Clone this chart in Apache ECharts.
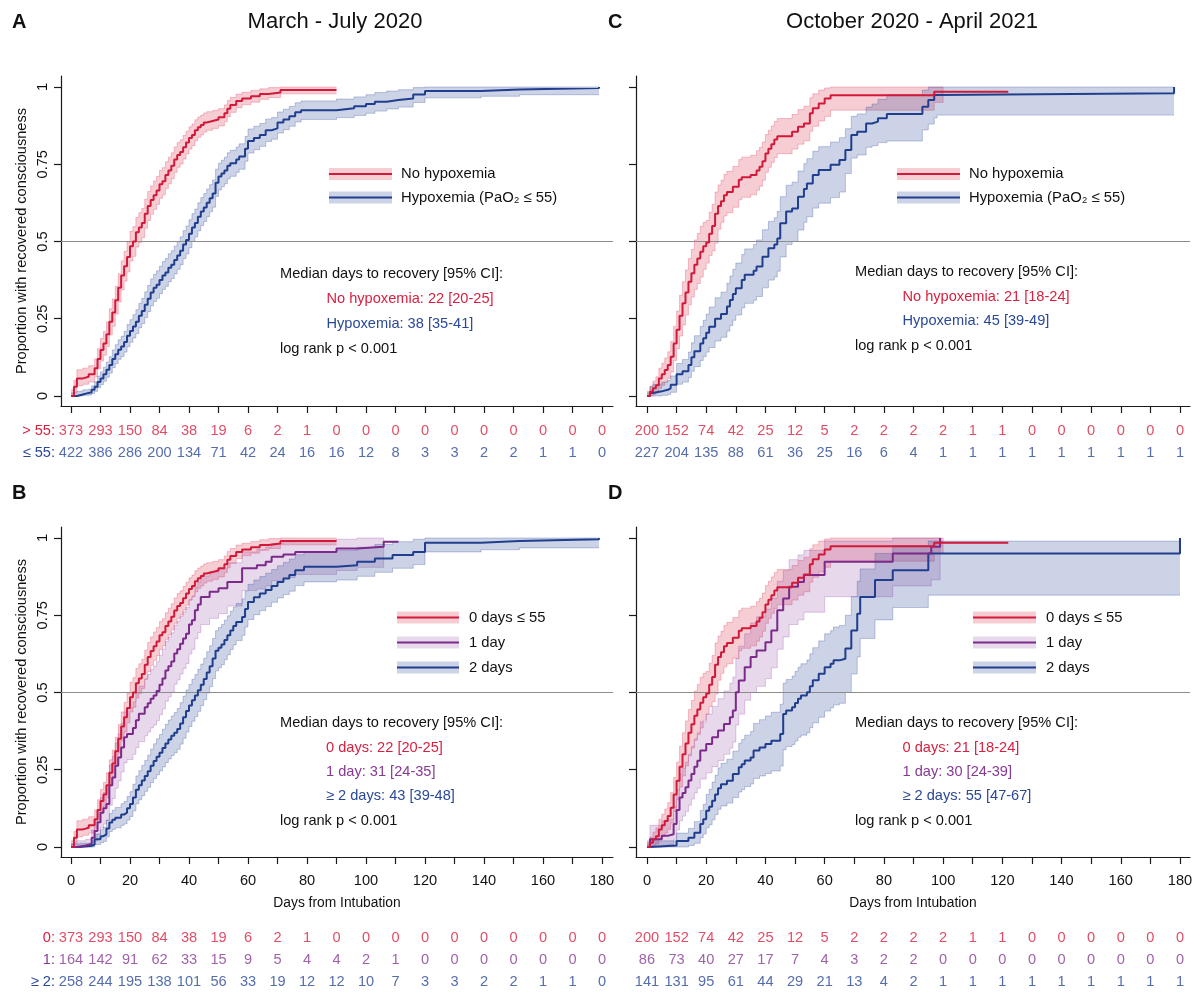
<!DOCTYPE html>
<html><head><meta charset="utf-8">
<script src="https://cdn.jsdelivr.net/npm/echarts@6/dist/echarts.min.js"></script>
<style>html,body{margin:0;padding:0;background:#fff}#c{width:1200px;height:993px}</style>
</head><body><div id="c"></div>
<script>
// ---------- tick labels ----------
const ticks10 = [0,10,20,30,40,50,60,70,80,90,100,110,120,130,140,150,160,170,180];
const ticks20 = [0,20,40,60,80,100,120,140,160,180];
const yTicks = [0,0.25,0.5,0.75,1];
const riskDays = [0,10,20,30,40,50,60,70,80,90,100,110,120,130,140,150,160,170,180];

// ---------- March - July 2020 : no hypoxemia / 0 days ----------
const mjNoDay = [0,1,2,4,6,8,9,10,11,12,13,14,15,16,17,18,19,20,21,22,23,24,25,26,27,28,29,30,31,32,33,34,35,36,37,38,39,40,41,42,43,44,45,46,48,50,52,53,54,56,58,61,64,67,71,90];
const mjNoP = [0,0.03,0.057,0.062,0.07,0.09,0.12,0.149,0.17,0.2,0.24,0.27,0.31,0.35,0.39,0.42,0.45,0.485,0.5,0.53,0.545,0.56,0.59,0.615,0.634,0.65,0.665,0.685,0.695,0.715,0.73,0.745,0.765,0.78,0.79,0.805,0.82,0.835,0.845,0.86,0.87,0.877,0.885,0.89,0.895,0.902,0.915,0.93,0.942,0.955,0.963,0.97,0.977,0.982,0.99,0.99];
const mjNoLo = [0,0.012,0.033,0.038,0.045,0.062,0.088,0.113,0.132,0.16,0.198,0.226,0.265,0.304,0.343,0.372,0.402,0.437,0.452,0.482,0.497,0.513,0.543,0.568,0.588,0.604,0.62,0.64,0.651,0.672,0.687,0.703,0.724,0.74,0.751,0.767,0.783,0.799,0.81,0.826,0.837,0.845,0.854,0.86,0.866,0.874,0.888,0.904,0.918,0.933,0.943,0.951,0.96,0.966,0.978,0.978];
const mjNoHi = [0.02,0.05,0.085,0.09,0.098,0.12,0.153,0.186,0.209,0.24,0.282,0.314,0.355,0.396,0.437,0.468,0.498,0.533,0.548,0.578,0.593,0.607,0.637,0.662,0.68,0.696,0.71,0.73,0.739,0.758,0.773,0.787,0.806,0.82,0.829,0.843,0.857,0.871,0.88,0.894,0.903,0.909,0.916,0.92,0.924,0.93,0.942,0.956,0.966,0.977,0.983,0.989,0.994,0.998,1,1];

// ---------- March - July 2020 : hypoxemia ----------
const mjHypDay = [0,2,4,6,7,8,9,10,11,12,13,14,15,16,17,18,19,20,21,22,23,24,25,26,27,28,29,30,31,32,33,34,35,36,37,38,39,40,41,42,43,44,45,46,47,48,49,50,51,52,53,54,56,57,59,60,62,64,66,68,70,72,74,76,78,90,96,100,103,107,111,116,120,139,152,179];
const mjHypP = [0,0.005,0.01,0.012,0.02,0.03,0.045,0.057,0.07,0.085,0.1,0.12,0.135,0.15,0.16,0.175,0.195,0.21,0.225,0.24,0.26,0.275,0.295,0.315,0.335,0.35,0.36,0.375,0.39,0.4,0.415,0.425,0.44,0.455,0.47,0.49,0.505,0.525,0.545,0.56,0.58,0.597,0.61,0.625,0.64,0.655,0.69,0.71,0.72,0.73,0.745,0.753,0.765,0.775,0.8,0.825,0.835,0.845,0.86,0.866,0.885,0.895,0.905,0.918,0.925,0.931,0.938,0.945,0.952,0.958,0.963,0.976,0.987,0.992,0.997,1];
const mjHypLo = [0,0,0.002,0.003,0.008,0.015,0.027,0.037,0.048,0.061,0.074,0.092,0.105,0.119,0.128,0.142,0.16,0.174,0.188,0.202,0.221,0.235,0.254,0.273,0.292,0.306,0.316,0.331,0.345,0.355,0.37,0.38,0.395,0.41,0.425,0.445,0.46,0.48,0.5,0.515,0.535,0.552,0.565,0.58,0.596,0.611,0.646,0.667,0.677,0.687,0.703,0.711,0.724,0.734,0.76,0.786,0.797,0.808,0.824,0.831,0.851,0.862,0.873,0.887,0.895,0.901,0.908,0.915,0.922,0.929,0.935,0.95,0.965,0.97,0.975,0.975];
const mjHypHi = [0.01,0.015,0.02,0.022,0.033,0.046,0.064,0.078,0.093,0.11,0.127,0.149,0.166,0.182,0.193,0.209,0.231,0.247,0.263,0.279,0.3,0.316,0.337,0.358,0.379,0.394,0.405,0.42,0.435,0.445,0.46,0.47,0.485,0.5,0.515,0.535,0.55,0.57,0.59,0.605,0.625,0.642,0.655,0.67,0.684,0.699,0.734,0.753,0.763,0.773,0.787,0.795,0.806,0.816,0.84,0.864,0.873,0.882,0.896,0.901,0.919,0.928,0.937,0.949,0.955,0.961,0.968,0.975,0.982,0.987,0.991,0.998,1,1,1,1];

// ---------- March - July 2020 : 1 day ----------
const mj1Day = [0,2,5,7,8,9,10,11,12,13,14,15,16,17,18,19,21,22,23,25,26,27,28,29,30,31,32,33,34,35,36,37,38,39,40,41,42,43,44,47,50,53,58,63,66,68,72,76,90,97,106,111];
const mj1P = [0,0.005,0.01,0.03,0.052,0.08,0.111,0.125,0.139,0.2,0.225,0.263,0.29,0.322,0.355,0.366,0.385,0.41,0.431,0.452,0.465,0.48,0.49,0.505,0.525,0.545,0.571,0.585,0.6,0.626,0.64,0.658,0.675,0.69,0.72,0.734,0.766,0.785,0.809,0.826,0.837,0.858,0.902,0.912,0.923,0.939,0.947,0.955,0.966,0.972,0.988,0.988];
const mj1Lo = [0,0,0,0.008,0.02,0.04,0.062,0.074,0.086,0.135,0.157,0.19,0.214,0.243,0.273,0.283,0.3,0.322,0.341,0.36,0.372,0.386,0.395,0.409,0.428,0.447,0.472,0.486,0.501,0.527,0.541,0.56,0.578,0.594,0.625,0.64,0.674,0.694,0.72,0.74,0.755,0.78,0.83,0.835,0.845,0.862,0.872,0.882,0.895,0.905,0.988,0.988];
const mj1Hi = [0.01,0.02,0.025,0.055,0.085,0.122,0.16,0.176,0.192,0.265,0.293,0.336,0.366,0.401,0.437,0.449,0.47,0.498,0.521,0.544,0.558,0.574,0.585,0.6,0.62,0.64,0.665,0.679,0.693,0.717,0.73,0.746,0.761,0.775,0.8,0.812,0.84,0.857,0.877,0.891,0.9,0.92,0.955,0.963,0.971,0.982,0.988,0.992,0.996,1,0.988,0.988];

// ---------- March - July 2020 : >= 2 days ----------
const mj2Day = [0,3,7,8,10,11,12,13,14,15,17,18,19,20,21,22,23,24,25,26,27,28,29,30,31,32,33,34,35,36,37,38,39,40,41,42,43,44,45,46,47,48,49,50,51,52,53,54,55,56,58,59,60,62,64,66,68,70,72,74,76,79,90,97,103,109,116,120,139,152,179];
const mj2P = [0,0.004,0.008,0.025,0.035,0.041,0.06,0.079,0.088,0.095,0.105,0.111,0.125,0.139,0.16,0.185,0.2,0.215,0.23,0.245,0.263,0.278,0.292,0.305,0.32,0.335,0.348,0.36,0.37,0.382,0.4,0.42,0.44,0.458,0.475,0.49,0.507,0.525,0.544,0.565,0.585,0.61,0.635,0.645,0.655,0.67,0.685,0.701,0.715,0.728,0.744,0.77,0.793,0.808,0.82,0.832,0.845,0.858,0.869,0.88,0.896,0.907,0.912,0.923,0.934,0.945,0.955,0.985,0.99,0.996,1];
const mj2Lo = [0,0,0,0.008,0.014,0.018,0.033,0.05,0.057,0.062,0.07,0.075,0.087,0.099,0.117,0.14,0.153,0.166,0.18,0.193,0.209,0.222,0.234,0.246,0.259,0.273,0.285,0.296,0.305,0.316,0.333,0.352,0.372,0.39,0.407,0.422,0.439,0.458,0.477,0.498,0.519,0.545,0.57,0.58,0.59,0.606,0.622,0.639,0.654,0.668,0.685,0.712,0.736,0.752,0.765,0.778,0.792,0.806,0.817,0.828,0.846,0.858,0.864,0.876,0.889,0.902,0.914,0.955,0.962,0.968,0.968];
const mj2Hi = [0.01,0.012,0.02,0.042,0.056,0.064,0.087,0.108,0.119,0.128,0.14,0.147,0.163,0.179,0.203,0.23,0.247,0.264,0.28,0.297,0.317,0.334,0.35,0.364,0.381,0.397,0.411,0.424,0.435,0.448,0.467,0.488,0.508,0.526,0.543,0.558,0.575,0.592,0.611,0.632,0.651,0.675,0.7,0.71,0.72,0.734,0.748,0.763,0.776,0.788,0.803,0.828,0.85,0.864,0.875,0.886,0.898,0.91,0.921,0.932,0.946,0.956,0.96,0.97,0.979,0.988,0.996,1,1,1,1];

// ---------- October 2020 - April 2021 : no hypoxemia / 0 days ----------
const oaNoDay = [0,1,2,3,4,5,6,7,8,9,10,11,12,13,14,15,16,17,18,19,20,21,22,23,24,25,26,27,29,31,32,35,37,38,39,40,41,42,43,44,49,51,53,55,56,58,60,62,97,100,122];
const oaNoP = [0,0.014,0.025,0.035,0.057,0.07,0.084,0.1,0.127,0.17,0.214,0.26,0.3,0.335,0.37,0.397,0.425,0.445,0.467,0.485,0.497,0.525,0.55,0.59,0.615,0.63,0.65,0.66,0.677,0.7,0.708,0.715,0.73,0.742,0.76,0.785,0.8,0.815,0.83,0.841,0.855,0.871,0.882,0.915,0.931,0.947,0.963,0.973,0.985,0.985,0.985];
const oaNoLo = [0,0,0.005,0.01,0.025,0.035,0.045,0.057,0.078,0.115,0.153,0.194,0.23,0.262,0.295,0.32,0.345,0.364,0.385,0.41,0.43,0.455,0.47,0.495,0.54,0.562,0.583,0.593,0.611,0.635,0.643,0.651,0.666,0.679,0.698,0.724,0.74,0.756,0.772,0.784,0.799,0.815,0.826,0.857,0.873,0.89,0.905,0.925,0.95,0.985,0.985];
const oaNoHi = [0.015,0.032,0.048,0.062,0.09,0.106,0.123,0.143,0.176,0.225,0.275,0.326,0.37,0.408,0.445,0.474,0.505,0.526,0.549,0.562,0.568,0.595,0.62,0.66,0.683,0.698,0.717,0.727,0.743,0.765,0.773,0.779,0.794,0.805,0.822,0.846,0.86,0.874,0.888,0.898,0.911,0.927,0.938,0.965,0.978,0.99,0.997,1,1,0.985,0.985];

// ---------- October 2020 - April 2021 : hypoxemia ----------
const oaHypDay = [0,1,2,5,7,8,10,12,14,15,16,18,19,20,21,23,25,27,28,29,30,32,33,36,37,39,41,43,44,45,47,49,51,53,54,56,58,62,65,67,69,71,74,76,78,81,93,95,97,98,178];
const oaHypP = [0,0.01,0.015,0.02,0.025,0.036,0.07,0.08,0.1,0.125,0.145,0.17,0.187,0.205,0.224,0.25,0.265,0.29,0.311,0.33,0.349,0.375,0.392,0.405,0.419,0.451,0.478,0.49,0.51,0.559,0.597,0.607,0.645,0.67,0.688,0.715,0.731,0.748,0.764,0.796,0.845,0.855,0.882,0.888,0.899,0.913,0.936,0.958,0.974,0.98,1];
const oaHypLo = [0,0,0,0.002,0.005,0.012,0.038,0.045,0.06,0.08,0.095,0.115,0.128,0.142,0.157,0.178,0.19,0.21,0.228,0.245,0.262,0.285,0.3,0.31,0.322,0.35,0.375,0.385,0.404,0.45,0.49,0.5,0.537,0.562,0.58,0.608,0.624,0.642,0.66,0.72,0.77,0.78,0.805,0.81,0.82,0.825,0.861,0.88,0.9,0.909,0.909];
const oaHypHi = [0.01,0.03,0.038,0.045,0.05,0.065,0.105,0.118,0.142,0.172,0.195,0.225,0.245,0.265,0.288,0.318,0.336,0.365,0.388,0.41,0.43,0.458,0.476,0.49,0.505,0.538,0.565,0.577,0.597,0.645,0.682,0.692,0.728,0.752,0.768,0.792,0.807,0.822,0.836,0.865,0.905,0.913,0.935,0.945,0.96,0.975,0.99,1,1,1,1];

// ---------- October 2020 - April 2021 : 1 day ----------
const oa1Day = [0,1,5,7,9,10,11,12,13,14,15,16,17,18,20,22,24,26,28,29,30,31,33,35,37,40,42,44,46,48,51,53,60,83,96,99];
const oa1P = [0,0.025,0.036,0.041,0.074,0.12,0.16,0.175,0.193,0.215,0.236,0.26,0.279,0.312,0.333,0.355,0.377,0.398,0.42,0.442,0.501,0.539,0.582,0.615,0.636,0.663,0.701,0.766,0.804,0.842,0.858,0.88,0.923,0.95,0.972,1];
const oa1Lo = [0,0,0.005,0.008,0.025,0.055,0.085,0.1,0.115,0.135,0.155,0.175,0.19,0.22,0.24,0.26,0.28,0.3,0.32,0.34,0.395,0.43,0.475,0.5,0.52,0.545,0.58,0.64,0.68,0.72,0.735,0.76,0.81,0.845,0.865,1];
const oa1Hi = [0.02,0.07,0.085,0.09,0.13,0.185,0.235,0.255,0.275,0.3,0.325,0.35,0.37,0.405,0.43,0.455,0.48,0.505,0.53,0.55,0.61,0.65,0.69,0.725,0.745,0.77,0.805,0.86,0.895,0.93,0.945,0.96,0.99,1,1,1];

// ---------- October 2020 - April 2021 : >= 2 days ----------
const oa2Day = [0,1,10,14,16,18,19,20,21,22,23,24,25,27,29,31,32,33,35,36,38,40,42,45,46,47,49,50,51,52,54,55,56,58,60,62,63,65,67,69,71,72,77,83,95,180];
const oa2P = [0,0.005,0.019,0.03,0.046,0.074,0.09,0.117,0.13,0.15,0.17,0.19,0.203,0.214,0.236,0.258,0.268,0.28,0.29,0.312,0.322,0.333,0.344,0.366,0.43,0.442,0.452,0.466,0.48,0.49,0.501,0.52,0.54,0.561,0.582,0.593,0.604,0.609,0.642,0.701,0.755,0.809,0.864,0.896,0.95,1];
const oa2Lo = [0,0,0,0.005,0.012,0.03,0.042,0.062,0.072,0.088,0.105,0.122,0.133,0.142,0.16,0.178,0.186,0.196,0.204,0.222,0.23,0.238,0.246,0.262,0.315,0.325,0.332,0.343,0.355,0.362,0.37,0.386,0.402,0.42,0.44,0.45,0.46,0.465,0.5,0.56,0.615,0.675,0.735,0.775,0.815,0.815];
const oa2Hi = [0.01,0.02,0.045,0.06,0.082,0.118,0.138,0.17,0.187,0.21,0.232,0.256,0.271,0.284,0.31,0.336,0.348,0.362,0.374,0.4,0.412,0.424,0.436,0.462,0.53,0.542,0.553,0.568,0.582,0.593,0.605,0.625,0.645,0.667,0.69,0.7,0.712,0.717,0.75,0.81,0.86,0.9,0.95,0.975,0.99,0.99];

// ---------- numbers at risk ----------
const riskMjNo  = [373,293,150,84,38,19,6,2,1,0,0,0,0,0,0,0,0,0,0];
const riskMjHyp = [422,386,286,200,134,71,42,24,16,16,12,8,3,3,2,2,1,1,0];
const riskMj1   = [164,142,91,62,33,15,9,5,4,4,2,1,0,0,0,0,0,0,0];
const riskMj2   = [258,244,195,138,101,56,33,19,12,12,10,7,3,3,2,2,1,1,0];
const riskOaNo  = [200,152,74,42,25,12,5,2,2,2,2,1,1,0,0,0,0,0,0];
const riskOaHyp = [227,204,135,88,61,36,25,16,6,4,1,1,1,1,1,1,1,1,1];
const riskOa1   = [86,73,40,27,17,7,4,3,2,2,0,0,0,0,0,0,0,0,0];
const riskOa2   = [141,131,95,61,44,29,21,13,4,2,1,1,1,1,1,1,1,1,1];

// ---------- median annotations ----------
const medA = ['No hypoxemia: 22 [20-25]', 'Hypoxemia: 38 [35-41]'];
const medC = ['No hypoxemia: 21 [18-24]', 'Hypoxemia: 45 [39-49]'];
const medB = ['0 days: 22 [20-25]', '1 day: 31 [24-35]', '\u2265 2 days: 43 [39-48]'];
const medD = ['0 days: 21 [18-24]', '1 day: 30 [24-39]', '\u2265 2 days: 55 [47-67]'];

// ---------- styling ----------
const FONT = '"Liberation Sans", Arial, Helvetica, sans-serif';
const AX = '#1a1a1a';
const FS = 14.6;
const COL = {
  red:    {line:'#D2193A', txt:'#D91E3E', band:'rgba(222,45,75,0.24)',  edge:'rgba(222,45,75,0.40)'},
  blue:   {line:'#203E8E', txt:'#2A4899', band:'rgba(40,70,150,0.24)',  edge:'rgba(40,70,150,0.40)'},
  purple: {line:'#7B2A8A', txt:'#873A93', band:'rgba(140,60,160,0.20)', edge:'rgba(140,60,160,0.38)'}
};

const LEFT  = {x0:61,  w:552, xmin:-3.39, xmax:183.73};
const RIGHT = {x0:636, w:554, xmin:-3.71, xmax:183.38};

const panels = [
  {col:LEFT, top:76, riskTop:420, riskH:44, yLab:true, xLab:false,
   curves:[{d:mjNoDay,p:mjNoP,lo:mjNoLo,hi:mjNoHi,c:'red'},{d:mjHypDay,p:mjHypP,lo:mjHypLo,hi:mjHypHi,c:'blue'}],
   rows:[{label:'> 55:',v:riskMjNo,c:'red'},{label:'\u2264 55:',v:riskMjHyp,c:'blue'}]},
  {col:RIGHT, top:76, riskTop:420, riskH:44, yLab:false, xLab:false,
   curves:[{d:oaNoDay,p:oaNoP,lo:oaNoLo,hi:oaNoHi,c:'red'},{d:oaHypDay,p:oaHypP,lo:oaHypLo,hi:oaHypHi,c:'blue'}],
   rows:[{label:'',v:riskOaNo,c:'red'},{label:'',v:riskOaHyp,c:'blue'}]},
  {col:LEFT, top:527, riskTop:927, riskH:67.5, yLab:true, xLab:true,
   curves:[{d:mjNoDay,p:mjNoP,lo:mjNoLo,hi:mjNoHi,c:'red'},{d:mj1Day,p:mj1P,lo:mj1Lo,hi:mj1Hi,c:'purple'},{d:mj2Day,p:mj2P,lo:mj2Lo,hi:mj2Hi,c:'blue'}],
   rows:[{label:'0:',v:riskMjNo,c:'red'},{label:'1:',v:riskMj1,c:'purple'},{label:'\u2265 2:',v:riskMj2,c:'blue'}]},
  {col:RIGHT, top:527, riskTop:927, riskH:67.5, yLab:false, xLab:true,
   curves:[{d:oaNoDay,p:oaNoP,lo:oaNoLo,hi:oaNoHi,c:'red'},{d:oa1Day,p:oa1P,lo:oa1Lo,hi:oa1Hi,c:'purple'},{d:oa2Day,p:oa2P,lo:oa2Lo,hi:oa2Hi,c:'blue'}],
   rows:[{label:'',v:riskOaNo,c:'red'},{label:'',v:riskOa1,c:'purple'},{label:'',v:riskOa2,c:'blue'}]}
];

// step-shaped confidence band drawn through the axis scales
function bandRenderer(c) {
  const col = COL[c.c];
  return function (params, api) {
    const n = c.d.length, up = [], lo = [];
    for (let i = 0; i < n; i++) {
      up.push(api.coord([c.d[i], c.hi[i]]));
      lo.push(api.coord([c.d[i], c.lo[i]]));
      if (i < n - 1) {
        up.push(api.coord([c.d[i + 1], c.hi[i]]));
        lo.push(api.coord([c.d[i + 1], c.lo[i]]));
      }
    }
    return {type:'group', children:[
      {type:'polygon', silent:true, shape:{points:up.concat(lo.slice().reverse())}, style:{fill:col.band}},
      {type:'polyline', silent:true, shape:{points:up}, style:{stroke:col.edge, lineWidth:0.7, fill:null}},
      {type:'polyline', silent:true, shape:{points:lo}, style:{stroke:col.edge, lineWidth:0.7, fill:null}}
    ]};
  };
}

const grid = [], xAxis = [], yAxis = [], series = [];
panels.forEach((pn, gi) => {
  const pi = xAxis.length, ri = pi + 1;
  grid.push({left:pn.col.x0, top:pn.top, width:pn.col.w, height:330});
  grid.push({left:pn.col.x0, top:pn.riskTop, width:pn.col.w, height:pn.riskH});
  xAxis.push({gridIndex:pi, type:'value', min:pn.col.xmin, max:pn.col.xmax,
    axisLine:{show:true, onZero:false, lineStyle:{color:AX, width:1.2}},
    axisTick:{show:true, length:7, customValues:ticks10, lineStyle:{color:AX, width:1.2}},
    axisLabel:{show:pn.xLab, customValues:ticks20, margin:16, fontSize:FS, color:'#111', fontFamily:FONT},
    splitLine:{show:false},
    name: pn.xLab ? 'Days from Intubation' : '', nameLocation:'middle', nameGap:39,
    nameTextStyle:{fontSize:13.8, color:'#111', fontFamily:FONT}});
  yAxis.push({gridIndex:pi, type:'value', min:-0.0324, max:1.0356,
    axisLine:{show:true, onZero:false, lineStyle:{color:AX, width:1.2}},
    axisTick:{show:true, length:7, customValues:yTicks, lineStyle:{color:AX, width:1.2}},
    axisLabel:{show:pn.yLab, customValues:yTicks, rotate:90, margin:11, fontSize:FS, color:'#111', fontFamily:FONT,
      formatter: v => String(v)},
    splitLine:{show:false},
    name: pn.yLab ? 'Proportion with recovered consciousness' : '', nameLocation:'middle', nameRotate:90, nameGap:32,
    nameTextStyle:{fontSize:14.6, color:'#111', fontFamily:FONT}});
  xAxis.push({gridIndex:ri, type:'value', min:pn.col.xmin, max:pn.col.xmax, show:false});
  const rowColors = pn.rows.map(r => COL[r.c].txt);
  yAxis.push({gridIndex:ri, type:'category', inverse:true, data:pn.rows.map(r => r.label),
    axisLine:{show:false}, axisTick:{show:false}, splitLine:{show:false},
    axisLabel:{show:true, margin:6, fontSize:FS, fontFamily:FONT, color:(v, i) => rowColors[i]}});

  // bands
  pn.curves.forEach(c => {
    series.push({type:'custom', coordinateSystem:'cartesian2d', xAxisIndex:pi, yAxisIndex:pi, silent:true, z:1,
      renderItem:bandRenderer(c), data:[[c.d[0], c.lo[0]]]});
  });
  // curves (drawn last-to-first so the red curve is on top)
  pn.curves.slice().reverse().forEach((c, k) => {
    const s = {type:'line', xAxisIndex:pi, yAxisIndex:pi, step:'end', symbol:'none', silent:true, z:3,
      lineStyle:{width:2, color:COL[c.c].line}, emphasis:{disabled:true},
      data:c.d.map((d, j) => [d, c.p[j]])};
    if (k === 0) {
      s.markLine = {silent:true, symbol:['none','none'], label:{show:false}, animation:false, z:2,
        lineStyle:{color:'#8c8c8c', width:1.1, type:'solid'}, data:[{yAxis:0.5}]};
    }
    series.push(s);
  });
  // numbers at risk
  pn.rows.forEach((r, k) => {
    series.push({type:'scatter', xAxisIndex:ri, yAxisIndex:ri, symbol:'circle', symbolSize:1, silent:true,
      itemStyle:{color:'rgba(0,0,0,0)'},
      label:{show:true, position:'inside', formatter:p => String(p.value[2]), color:COL[r.c].txt, fontSize:FS, fontFamily:FONT},
      data:riskDays.map((d, j) => [d, k, r.v[j]])});
  });
});

// ---------- text / legend graphics ----------
function txt(x, y, s, o) {
  o = o || {};
  const al = o.align || 'left';
  return {type:'text', x:x, y:y, silent:true, z:10,
    style:{text:s, fill:o.color || '#111', font:(o.weight || 'normal') + ' ' + (o.size || FS) + 'px ' + FONT,
      align:al, verticalAlign:'middle', textAlign:al, textVerticalAlign:'middle'}};
}
function legendItem(x, y, w, c, label, tx) {
  return [
    {type:'rect', silent:true, z:10, shape:{x:x, y:y - 6, width:w, height:12}, style:{fill:COL[c].band}},
    {type:'line', silent:true, z:11, shape:{x1:x, y1:y, x2:x + w, y2:y}, style:{stroke:COL[c].line, lineWidth:2}},
    txt(tx, y, label, {size:14.8})
  ];
}
const g = [];
g.push(txt(12, 22, 'A', {weight:'bold', size:20}));
g.push(txt(335, 22, 'March - July 2020', {size:22, align:'center'}));
g.push(txt(608, 22, 'C', {weight:'bold', size:20}));
g.push(txt(912, 22, 'October 2020 - April 2021', {size:22, align:'center'}));
g.push(txt(12, 493, 'B', {weight:'bold', size:20}));
g.push(txt(608, 493, 'D', {weight:'bold', size:20}));

g.push(...legendItem(329, 174, 63, 'red', 'No hypoxemia', 401));
g.push(...legendItem(329, 197.5, 63, 'blue', 'Hypoxemia (PaO\u2082 \u2264 55)', 401));
g.push(...legendItem(897, 174, 63, 'red', 'No hypoxemia', 969));
g.push(...legendItem(897, 197.5, 63, 'blue', 'Hypoxemia (PaO\u2082 \u2264 55)', 969));
g.push(...legendItem(397, 617.5, 62, 'red', '0 days \u2264 55', 469));
g.push(...legendItem(397, 642.5, 62, 'purple', '1 day', 469));
g.push(...legendItem(397, 667.5, 62, 'blue', '2 days', 469));
g.push(...legendItem(973, 617.5, 63, 'red', '0 days \u2264 55', 1046));
g.push(...legendItem(973, 642.5, 63, 'purple', '1 day', 1046));
g.push(...legendItem(973, 667.5, 63, 'blue', '2 days', 1046));

g.push(txt(280, 274, 'Median days to recovery [95% CI]:'));
g.push(txt(326.5, 299, medA[0], {color:COL.red.txt}));
g.push(txt(326.5, 324, medA[1], {color:COL.blue.txt}));
g.push(txt(280, 349, 'log rank p < 0.001'));

g.push(txt(855, 271.5, 'Median days to recovery [95% CI]:'));
g.push(txt(902.5, 296.5, medC[0], {color:COL.red.txt}));
g.push(txt(902.5, 321, medC[1], {color:COL.blue.txt}));
g.push(txt(855, 346, 'log rank p < 0.001'));

g.push(txt(280, 722.5, 'Median days to recovery [95% CI]:'));
g.push(txt(326, 747.5, medB[0], {color:COL.red.txt}));
g.push(txt(326, 772, medB[1], {color:COL.purple.txt}));
g.push(txt(326, 796, medB[2], {color:COL.blue.txt}));
g.push(txt(280, 820.5, 'log rank p < 0.001'));

g.push(txt(855, 722.5, 'Median days to recovery [95% CI]:'));
g.push(txt(902.5, 747.5, medD[0], {color:COL.red.txt}));
g.push(txt(902.5, 772, medD[1], {color:COL.purple.txt}));
g.push(txt(902.5, 796, medD[2], {color:COL.blue.txt}));
g.push(txt(855, 820.5, 'log rank p < 0.001'));

const chart = echarts.init(document.getElementById('c'), null, {renderer:'canvas'});
chart.setOption({
  animation:false,
  backgroundColor:'#ffffff',
  textStyle:{fontFamily:FONT},
  grid:grid, xAxis:xAxis, yAxis:yAxis, series:series,
  graphic:{elements:g}
});
</script></body></html>
